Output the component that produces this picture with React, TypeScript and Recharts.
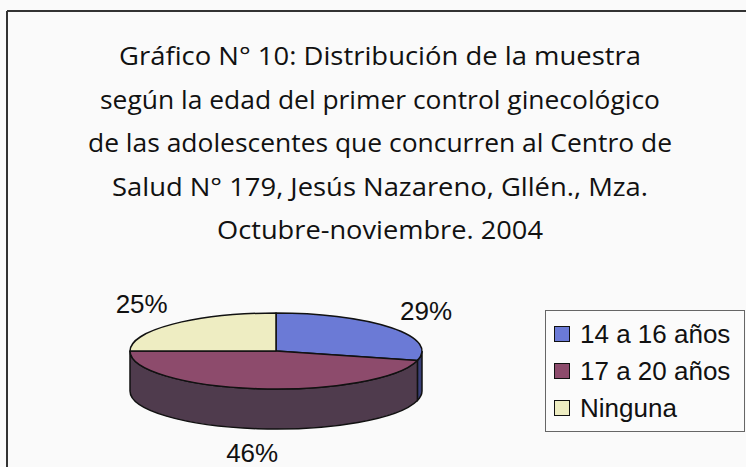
import React from 'react';
import { PieChart, Pie, Legend } from 'recharts';

// ---- data ----
const categories = ['14 a 16 años', '17 a 20 años', 'Ninguna'];
const percentages = [29, 46, 25];
const percentLabels = ['29%', '46%', '25%'];
const titleLines = [
  'Gráfico N° 10: Distribución de la muestra',
  'según la edad del primer control ginecológico',
  'de las adolescentes que concurren al Centro de',
  'Salud N° 179, Jesús Nazareno, Gllén., Mza.',
  'Octubre-noviembre. 2004',
];

// ---- styles ----
const topColors = ['#6b7ad6', '#8d4b6c', '#eeedc2'];
const sideColors = ['#3a4078', '#4f3b4d', '#b3b28a'];
const titleWidths = [522, 560, 584, 536, 326];
const titleY = [55, 99, 142, 186, 229];

const W = 746;
const H = 467;
const CX = 276;
const CY = 351;
const RX = 146;
const RY = 38;
const DEPTH = 40;

const data = categories.map((name, i) => ({ name, value: percentages[i] }));

const rad = (d: number) => (d * Math.PI) / 180;
const pt = (a: number, dy = 0) => [CX + RX * Math.cos(rad(a)), CY - RY * Math.sin(rad(a)) + dy];

function renderSlice(props: any) {
  const { startAngle, endAngle, midAngle, index } = props;
  const s = startAngle;
  const e = endAngle;
  const large = Math.abs(s - e) > 180 ? 1 : 0;
  const [x1, y1] = pt(s);
  const [x2, y2] = pt(e);
  const top = `M${CX},${CY} L${x1},${y1} A${RX},${RY} 0 ${large} 1 ${x2},${y2} Z`;

  // visible side wall: angles between -180 and 0 (front half)
  let side: string | null = null;
  const hi = Math.min(s, 0);
  const lo = Math.max(e, -180);
  if (hi - lo > 0.01) {
    const [a1x, a1y] = pt(hi);
    const [a2x, a2y] = pt(lo);
    const [b2x, b2y] = pt(lo, DEPTH);
    const [b1x, b1y] = pt(hi, DEPTH);
    side = `M${a1x},${a1y} A${RX},${RY} 0 0 1 ${a2x},${a2y} L${b2x},${b2y} A${RX},${RY} 0 0 0 ${b1x},${b1y} Z`;
  }

  const m = rad(midAngle);
  const lx = CX + (RX + 44) * Math.cos(m);
  const front = Math.sin(m) < 0;
  const ly = CY - (RY + (front ? 24 : 28)) * Math.sin(m) + (front ? DEPTH : 0);

  return (
    <g key={`slice-${index}`}>
      {side && <path d={side} fill={sideColors[index]} stroke="#111" strokeWidth={1.5} />}
      <path d={top} fill={topColors[index]} stroke="#111" strokeWidth={1.5} strokeLinejoin="round" />
      <text
        x={lx}
        y={ly}
        textAnchor="middle"
        dominantBaseline="central"
        fontFamily="'Liberation Sans', Arial, sans-serif"
        fontSize={26}
        fill="#111"
      >
        {percentLabels[index]}
      </text>
    </g>
  );
}

function renderLegend(props: any) {
  const payload = props.payload || [];
  return (
    <div
      style={{
        width: 200,
        height: 122,
        boxSizing: 'border-box',
        border: '1px solid #666',
        background: '#fbfbfb',
        position: 'relative',
        fontFamily: "'Liberation Sans', Arial, sans-serif",
        fontSize: 26,
        color: '#111',
      }}
    >
      {payload.map((p: any, i: number) => (
        <div
          key={i}
          style={{
            position: 'absolute',
            left: 8,
            top: 8 + i * 37,
            height: 30,
            display: 'flex',
            alignItems: 'center',
            whiteSpace: 'nowrap',
          }}
        >
          <span
            style={{
              display: 'inline-block',
              width: 14,
              height: 14,
              border: '1.5px solid #111',
              background: topColors[i],
              marginRight: 10,
            }}
          />
          <span>{p.value}</span>
        </div>
      ))}
    </div>
  );
}

export default function App() {
  return (
    <div style={{ position: 'absolute', left: 0, top: 0, width: W, height: H, background: '#fafafa' }}>
      <svg width={W} height={H} style={{ position: 'absolute', left: 0, top: 0 }}>
        <line x1={7} y1={11} x2={W} y2={11} stroke="#333" strokeWidth={2} />
        <line x1={7} y1={11} x2={7} y2={H} stroke="#333" strokeWidth={2} />
        {titleLines.map((t, i) => (
          <text
            key={i}
            x={380}
            y={titleY[i]}
            textAnchor="middle"
            dominantBaseline="central"
            fontFamily="'Open Sans', sans-serif"
            fontSize={26}
            fill="#111"
            textLength={titleWidths[i]}
            lengthAdjust="spacingAndGlyphs"
          >
            {t}
          </text>
        ))}
      </svg>
      <div style={{ position: 'absolute', left: 0, top: 0 }}>
        <PieChart width={W} height={H}>
          <Pie
            data={data}
            dataKey="value"
            nameKey="name"
            cx={CX}
            cy={CY}
            outerRadius={RX}
            startAngle={90}
            endAngle={-270}
            fill="none"
            stroke="none"
            labelLine={false}
            label={renderSlice}
            isAnimationActive={false}
          />
          <Legend
            content={renderLegend}
            wrapperStyle={{ position: 'absolute', left: 545, top: 310, width: 200, height: 122 }}
          />
        </PieChart>
      </div>
    </div>
  );
}
